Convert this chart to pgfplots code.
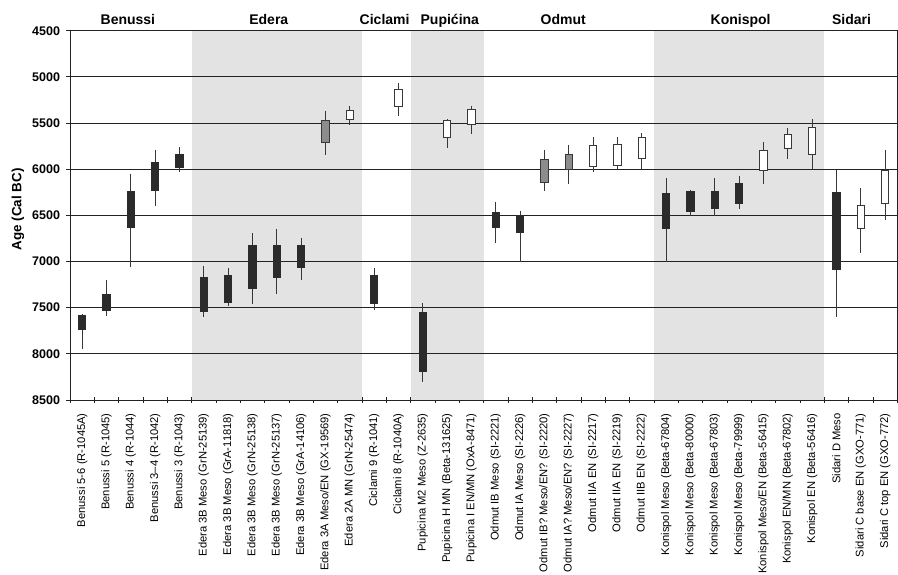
\documentclass[border=0pt]{standalone}
\usepackage{pgfplots}
\pgfplotsset{compat=1.18}
\usepackage{pgfplotstable}
\usepackage{fontspec}
\setmainfont{Liberation Sans}
\definecolor{candleblack}{HTML}{2B2B2B}
\definecolor{candlegray}{HTML}{8C8C8C}
\definecolor{band}{HTML}{E3E3E3}
\definecolor{edge}{HTML}{383838}
\definecolor{gridc}{HTML}{222222}

% x = category index, lw/uw = whisker ends, lq/uq = box ends (Cal BC)
\pgfplotstableread{
x  lw    lq    uq    uw
0  7570  7580  7740  7950
1  7200  7355  7525  7585
2  6050  6240  6630  7055
3  5795  5925  6225  6395
4  5760  5840  5980  6030
5  7045  7175  7535  7605
6  7070  7145  7445  7480
7  6695  6830  7295  7460
8  6645  6820  7175  7355
9  6745  6830  7065  7205
10 5365  5470  5705  5845
11 5315  5365  5460  5525
12 7070  7145  7455  7525
13 5065  5140  5325  5420
14 7450  7550  8190  8310
15 5455  5470  5655  5770
16 5315  5355  5510  5615
17 6350  6465  6630  6795
18 6450  6500  6680  7000
19 5795  5890  6145  6240
20 5735  5845  6005  6160
21 5655  5745  5970  6030
22 5655  5730  5960  6000
23 5610  5655  5880  6000
24 6095  6260  6640  7000
25 6225  6240  6460  6510
26 6095  6240  6430  6510
27 6070  6150  6375  6430
28 5705  5795  6015  6160
29 5555  5620  5770  5890
30 5455  5545  5835  6000
31 6005  6250  7085  7605
32 6200  6395  6640  6905
33 5795  6015  6370  6550
}\candles

% draw one candle (whisker + box) from row #1 of \candles with box style #2
\newcommand\candle[2]{%
  \pgfplotstablegetelem{#1}{x}\of\candles \let\cx\pgfplotsretval
  \pgfplotstablegetelem{#1}{lw}\of\candles \let\clw\pgfplotsretval
  \pgfplotstablegetelem{#1}{lq}\of\candles \let\clq\pgfplotsretval
  \pgfplotstablegetelem{#1}{uq}\of\candles \let\cuq\pgfplotsretval
  \pgfplotstablegetelem{#1}{uw}\of\candles \let\cuw\pgfplotsretval
  \pgfmathsetmacro\xl{\cx-0.15}%
  \pgfmathsetmacro\xr{\cx+0.15}%
  \edef\doplot{%
    \noexpand\addplot[draw=edge, line width=0.9pt] coordinates {(\cx,\clw) (\cx,\cuw)};
    \noexpand\addplot[#2] coordinates {(\xl,\clq) (\xr,\clq) (\xr,\cuq) (\xl,\cuq)} -- cycle;}%
  \doplot
}

\begin{document}
\begin{tikzpicture}
\path[use as bounding box] (-70pt,-174pt) rectangle (828pt,400pt);
\begin{axis}[
  at={(0,0)}, anchor=south west,
  scale only axis,
  width=827.3pt, height=369.3pt,
  xmin=-0.5, xmax=33.5,
  ymin=4500, ymax=8500,
  y dir=reverse,
  ytick={4500,5000,...,8500},
  axis line style={gridc, line width=0.9pt},
  tick pos=left,
  ytick align=outside,
  xtick align=center,
  major tick length=3.5pt,
  minor tick length=5.5pt,
  tick style={gridc, line width=0.8pt},
  xtick={0,...,33},
  major x tick style={draw=none},
  minor xtick={-0.5,0.5,...,33.5},
  /pgf/number format/assume math mode=true,
  /pgf/number format/1000 sep={},
  yticklabel style={font=\bfseries\fontsize{12.5}{14}\selectfont, xshift=-3pt},
  xticklabel style={font=\fontsize{11.2}{13}\selectfont, rotate=90, anchor=east, xshift=-8pt},
  xticklabels={
    Benussi 5-6 (R-1045A),
    Benussi 5 (R-1045),
    Benussi 4 (R-1044),
    Benussi 3–4 (R-1042),
    Benussi 3 (R-1043),
    Edera 3B Meso (GrN-25139),
    Edera 3B Meso (GrA-11818),
    Edera 3B Meso (GrN-25138),
    Edera 3B Meso (GrN-25137),
    Edera 3B Meso (GrA-14106),
    Edera 3A Meso/EN (GX-19569),
    Edera 2A MN (GrN-25474),
    Ciclami 9 (R-1041),
    Ciclami 8 (R-1040A),
    Pupicina M2 Meso (Z-2635),
    Pupicina H MN (Beta-131625),
    Pupicina I EN/MN (OxA-8471),
    Odmut IB Meso (SI-2221),
    Odmut IA Meso (SI-2226),
    Odmut IB? Meso/EN? (SI-2220),
    Odmut IA? Meso/EN? (SI-2227),
    Odmut IIA EN (SI-2217),
    Odmut IIA EN (SI-2219),
    Odmut IIB EN (SI-2222),
    Konispol Meso (Beta-67804),
    Konispol Meso (Beta-80000),
    Konispol Meso (Beta-67803),
    Konispol Meso (Beta-79999),
    Konispol Meso/EN (Beta-56415),
    Konispol EN/MN (Beta-67802),
    Konispol EN (Beta-56416),
    Sidari D Meso,
    Sidari C base EN (GXO-771),
    Sidari C top EN (GXO-772)
  },
  candleK/.style={draw=candleblack, fill=candleblack, line width=0.8pt},
  candleG/.style={draw=edge, fill=candlegray, line width=0.8pt},
  candleW/.style={draw=edge, fill=white, line width=0.8pt},
]
% shaded site bands
\addplot[fill=band, draw=none] coordinates {(4.5,4500) (11.5,4500) (11.5,8500) (4.5,8500)} -- cycle;
\addplot[fill=band, draw=none] coordinates {(13.5,4500) (16.5,4500) (16.5,8500) (13.5,8500)} -- cycle;
\addplot[fill=band, draw=none] coordinates {(23.5,4500) (30.5,4500) (30.5,8500) (23.5,8500)} -- cycle;
% horizontal grid lines
\pgfplotsinvokeforeach{5000,5500,6000,6500,7000,7500,8000}{
  \addplot[gridc, line width=0.9pt] coordinates {(-0.5,#1) (33.5,#1)};
}

\pgfplotsforeachungrouped \r in {0,1,2,3,4,5,6,7,8,9,12,14,17,18,24,25,26,27,31}{\candle{\r}{candleK}}
\pgfplotsforeachungrouped \r in {10,19,20}{\candle{\r}{candleG}}
\pgfplotsforeachungrouped \r in {11,13,15,16,21,22,23,28,29,30,32,33}{\candle{\r}{candleW}}

\coordinate (g1) at (axis cs:1.88,4500);
\coordinate (g2) at (axis cs:7.67,4500);
\coordinate (g3) at (axis cs:12.43,4500);
\coordinate (g4) at (axis cs:15.11,4500);
\coordinate (g5) at (axis cs:19.77,4500);
\coordinate (g6) at (axis cs:27.06,4500);
\coordinate (g7) at (axis cs:31.62,4500);
\coordinate (yl) at (axis cs:-0.5,6435);
\end{axis}
\begin{scope}[every node/.style={font=\bfseries\fontsize{14}{16}\selectfont, anchor=base, yshift=6.7pt}]
  \node at (g1) {Benussi};
  \node at (g2) {Edera};
  \node at (g3) {Ciclami};
  \node at (g4) {Pupićina};
  \node at (g5) {Odmut};
  \node at (g6) {Konispol};
  \node at (g7) {Sidari};
\end{scope}
\path (yl) ++(-52pt,0) node[rotate=90, font=\bfseries\fontsize{13.4}{15}\selectfont, anchor=center] {Age (Cal BC)};
\end{tikzpicture}
\end{document}
